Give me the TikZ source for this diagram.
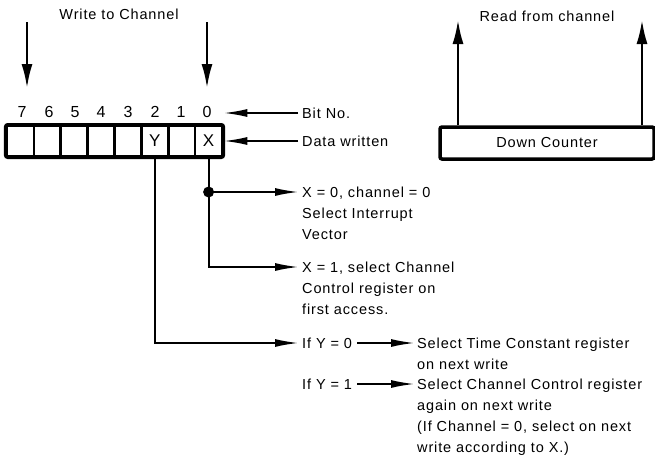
\documentclass[tikz,border=0pt]{standalone}
\usepackage{fontspec}
\setmainfont{Liberation Sans}[LetterSpace=6]
\usetikzlibrary{arrows.meta}

\begin{document}
\begin{tikzpicture}[
    x=1pt, y=-1pt,
    txt/.style={font=\fontsize{14.5}{21}\selectfont, inner sep=0pt},
    lbl/.style={txt, align=left, anchor=north west},
    bitnum/.style={font=\fontsize{16}{18}\selectfont, inner sep=0pt},
    cell/.style={draw, line width=2.5pt, minimum width=26.875pt, minimum height=30pt, inner sep=0pt, font=\fontsize{17}{18}\selectfont},
    counter/.style={draw, line width=3.5pt, rounded corners=2pt, minimum width=214pt, minimum height=32pt, txt},
    wire/.style={line width=2pt},
    arr/.style={wire, -{Latex[length=24pt,width=8pt]}},
    bigarr/.style={line width=2.3pt, -{Latex[length=24pt,width=11pt]}}
]
\useasboundingbox (0,0) rectangle (655,463);

% ---- titles ----
\node[txt] (wtitle) at (119,14) {Write to Channel};
\node[txt] (rtitle) at (547,16) {Read from channel};

% ---- register ----
\node[cell] (b7) at (20.4,141) {};
\node[cell] (b6) at (47.3,141) {};
\node[cell] (b5) at (74.2,141) {};
\node[cell] (b4) at (101.0,141) {};
\node[cell] (b3) at (127.9,141) {};
\node[cell] (b2) at (154.8,141) {Y};
\node[cell] (b1) at (181.7,141) {};
\node[cell] (b0) at (208.6,141) {X};
\draw[line width=3.5pt, rounded corners=2pt] (b7.north west) rectangle (b0.south east);

% ---- bit numbers ----
\node[bitnum] (n7) at (22,112) {7};
\node[bitnum] (n6) at (49,112) {6};
\node[bitnum] (n5) at (75,112) {5};
\node[bitnum] (n4) at (101,112) {4};
\node[bitnum] (n3) at (128,112) {3};
\node[bitnum] (n2) at (155,112) {2};
\node[bitnum] (n1) at (181,112) {1};
\node[bitnum] (n0) at (207,112) {0};

% ---- side labels ----
\node[txt, anchor=west] (bitno) at (302,113) {Bit No.};
\node[txt, anchor=west] (dw) at (302,141) {Data written};

% ---- down counter ----
\node[counter] (cnt) at (547,143) {Down Counter};
\coordinate (rl) at (458,20);
\coordinate (rr) at (642,20);

% ---- write arrows ----
\coordinate (wl) at (27,22);
\coordinate (wlend) at (27,88);
\coordinate (wr) at (207,22);
\coordinate (wrend) at (207,88);

% ---- explanations ----
\coordinate (xdot) at (b0.south |- 0,192);
\node[lbl] (x0) at (302,187) {X = 0, channel = 0\\Select Interrupt\\Vector};
\node[lbl] (x1) at (302,262) {X = 1, select Channel\\Control register on\\first access.};
\node[txt, anchor=west] (y0) at (302,343) {If Y = 0};
\node[txt, anchor=west] (y1) at (302,384) {If Y = 1};
\node[lbl] (s0) at (417,338) {Select Time Constant register\\on next write};
\node[lbl] (s1) at (417,379) {Select Channel Control register\\again on next write\\(If Channel = 0, select on next\\write according to X.)};

% ---- edges ----
\draw[bigarr] (wl) -- (wlend);
\draw[bigarr] (wr) -- (wrend);
\draw[bigarr] (rl |- cnt.north) -- (rl);
\draw[bigarr] (rr |- cnt.north) -- (rr);

\draw[arr, shorten <=4pt] (bitno.west) -- (b0.east |- bitno.west);
\draw[arr, shorten <=4pt] (dw.west) -- (b0.east);

\draw[wire] (b0.south) -- (xdot);
\fill (xdot) circle (5.5pt);
\draw[arr, shorten >=3pt] (xdot) -- ([yshift=-5pt]x0.north west);
\draw[arr, shorten >=3pt] (xdot) |- ([yshift=-5pt]x1.north west);
\draw[arr, shorten >=3pt] (b2.south) |- (y0.west);
\draw[arr, shorten <=5pt, shorten >=2pt] (y0.east) -- ([yshift=-5pt]s0.north west);
\draw[arr, shorten <=5pt, shorten >=2pt] (y1.east) -- ([yshift=-5pt]s1.north west);

\end{tikzpicture}
\end{document}
